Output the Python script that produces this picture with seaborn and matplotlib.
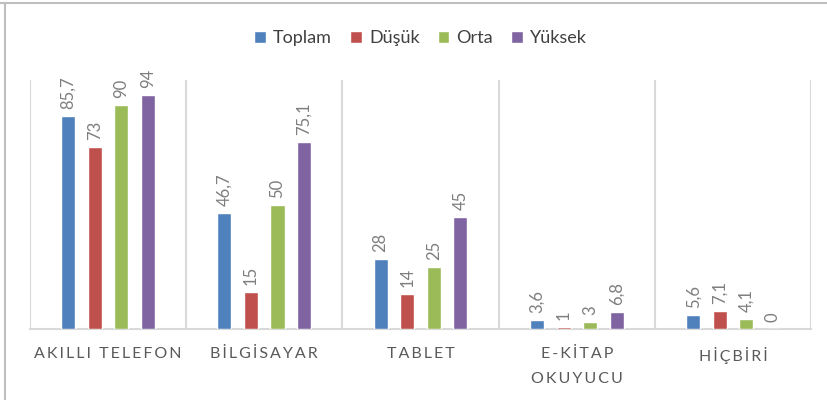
import numpy as np
import pandas as pd
import seaborn as sns
import matplotlib.pyplot as plt
from matplotlib.lines import Line2D

# data
categories = ["AKILLI TELEFON", "BİLGİSAYAR", "TABLET", "E-KİTAP\nOKUYUCU", "HİÇBİRİ"]
groups = ["Toplam", "Düşük", "Orta", "Yüksek"]
toplam = [85.7, 46.7, 28, 3.6, 5.6]
dusuk = [73, 15, 14, 1, 7.1]
orta = [90, 50, 25, 3, 4.1]
yuksek = [94, 75.1, 45, 6.8, 0]
colors = ["#4F81BD", "#C0504D", "#9BBB59", "#8064A2"]

rows = []
for g, vals in zip(groups, [toplam, dusuk, orta, yuksek]):
    for c, v in zip(categories, vals):
        rows.append({"Cihaz": c, "Grup": g, "Deger": v})
df = pd.DataFrame(rows)

sns.set_style("white")
plt.rcParams["font.family"] = ["Lato", "DejaVu Sans"]

fig = plt.figure(figsize=(8.27, 4.0), dpi=100)
ax = fig.add_axes([0.036, 0.1775, 0.945, 0.6225])

sns.barplot(data=df, x="Cihaz", y="Deger", hue="Grup", order=categories,
            hue_order=groups, palette=colors, saturation=1, width=0.68,
            gap=0.47, errorbar=None, ax=ax, legend=True)

# data labels, comma decimal
for cont, g in zip(ax.containers, groups):
    labels = [f"{v:g}".replace(".", ",") for v in cont.datavalues]
    ax.bar_label(cont, labels=labels, rotation=90, padding=5,
                 fontsize=12, color="#7F7F7F")

ax.set_ylim(0, 100)
ax.set_xlim(-0.5, len(categories) - 0.5)
ax.set_yticks([])
ax.set_xlabel("")
ax.set_ylabel("")
for s in ["top", "right", "left"]:
    ax.spines[s].set_visible(False)
ax.spines["bottom"].set_color("#D9D9D9")
ax.spines["bottom"].set_linewidth(1.5)
ax.spines["bottom"].set_zorder(0)
for k in range(len(categories) + 1):
    ax.axvline(k - 0.5, color="#D9D9D9", lw=1.5, zorder=0)

# letter-spaced tick labels like the original
spaced = ["\u2009".join(list(c)).replace("\u2009\n\u2009", "\n") for c in categories]
ax.set_xticks(range(len(categories)))
ax.set_xticklabels(spaced, fontsize=11.5, color="#595959", linespacing=2.0)
ax.tick_params(axis="x", length=0, pad=13)

ax.legend(loc="center", bbox_to_anchor=(0.5, 1.169), ncol=4, frameon=False,
          fontsize=13, handlelength=0.65, handleheight=0.65, handletextpad=0.4,
          columnspacing=1.0, labelcolor="#404040")

# image frame (left and top edge)
fig.add_artist(Line2D([0.006, 0.006], [0, 0.993], color="#BFBFBF", lw=1.5))
fig.add_artist(Line2D([0, 1], [0.993, 0.993], color="#BFBFBF", lw=1.5))

fig.savefig("out.png", dpi=100)
